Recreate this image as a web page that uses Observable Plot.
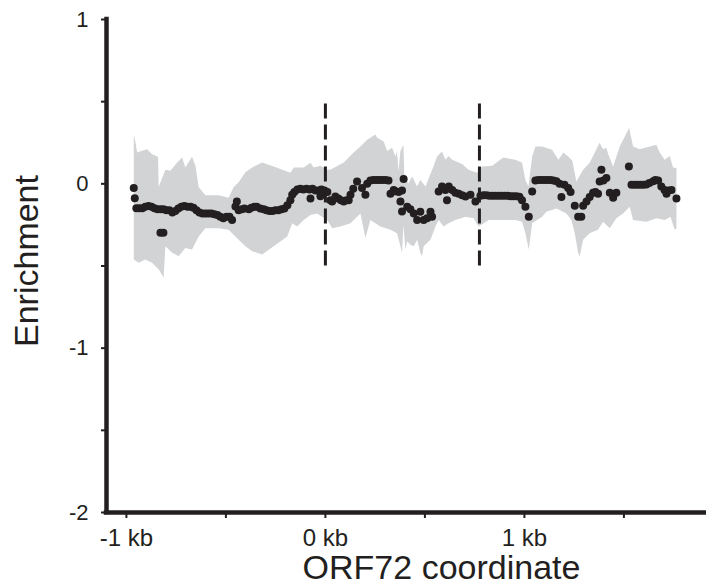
<!DOCTYPE html>
<html>
<head>
<meta charset="utf-8">
<script src="https://cdn.jsdelivr.net/npm/d3@7"></script>
<script src="https://cdn.jsdelivr.net/npm/@observablehq/plot@0.6"></script>
<style>
  html, body { margin: 0; padding: 0; background: white; }
</style>
</head>
<body>
<div id="chart"></div>
<script>
// Position in bp relative to ORF72 start; enrichment values
const pointPos = [
  -963, -958, -950, -935, -920, -905, -889, -874, -859, -844,
  -829, -814, -799, -784, -769, -754, -739, -724, -709, -693,
  -678, -663, -648, -633, -618, -603, -588, -573, -558, -543,
  -528, -513, -497, -482, -469, -452, -445, -436, -829, -814,
  -420, -407, -385, -372, -357, -345, -327, -310, -296, -281,
  -266, -251, -236, -221, -206, -191, -176, -167, -156, -141,
  -126, -111, -95, -80, -75, -65, -50, -35, -25, -20,
  -5, 10, 25, 34, 50, 65, 78, 92, 106, 117,
  126, 140, 159, 184, 201, 210, 226, 241, 256, 271,
  286, 302, 317, 327, 343, 352, 368, 377, 385, 393,
  385, 411, 427, 444, 461, 477, 494, 511, 528, 536,
  569, 586, 603, 611, 620, 637, 653, 670, 687, 704,
  729, 754, 779, 794, 809, 824, 839, 854, 869, 884,
  899, 915, 930, 945, 960, 975, 988, 1005, 1022, 1039,
  1055, 1070, 1085, 1100, 1115, 1131, 1146, 1161, 1177, 1186,
  1201, 1220, 1232, 1253, 1270, 1286, 1295, 1312, 1328, 1345,
  1357, 1370, 1378, 1387, 1397, 1412, 1429, 1446, 1462, 1525,
  1538, 1553, 1568, 1583, 1598, 1613, 1628, 1647, 1658, 1672,
  1688, 1704, 1714, 1724, 1739, 1764
];
const pointVal = [
  -0.026, -0.087, -0.148, -0.148, -0.148, -0.14, -0.135, -0.14, -0.148, -0.155,
  -0.155, -0.155, -0.16, -0.16, -0.175, -0.165, -0.15, -0.14, -0.135, -0.14,
  -0.14, -0.145, -0.16, -0.175, -0.18, -0.18, -0.18, -0.18, -0.185, -0.19,
  -0.2, -0.21, -0.2, -0.2, -0.22, -0.138, -0.108, -0.16, -0.297, -0.297,
  -0.155, -0.15, -0.155, -0.145, -0.14, -0.14, -0.15, -0.155, -0.16, -0.165,
  -0.165, -0.16, -0.16, -0.155, -0.15, -0.13, -0.1, -0.067, -0.05, -0.035,
  -0.03, -0.035, -0.03, -0.035, -0.09, -0.03, -0.04, -0.04, -0.075, -0.035,
  -0.04, -0.05, -0.1, -0.108, -0.077, -0.09, -0.1, -0.108, -0.1, -0.1,
  -0.067, -0.03, 0.014, -0.026, -0.067, 0.0, 0.02, 0.024, 0.024, 0.024,
  0.024, 0.024, 0.02, -0.06, -0.037, -0.045, -0.05, -0.108, -0.04, 0.03,
  -0.169, -0.14, -0.155, -0.18, -0.22, -0.17, -0.22, -0.21, -0.17, -0.2,
  -0.047, -0.016, -0.037, -0.1, -0.016, -0.037, -0.055, -0.06, -0.07, -0.077,
  -0.067, -0.108, -0.073, -0.07, -0.07, -0.072, -0.072, -0.072, -0.072, -0.073,
  -0.073, -0.073, -0.075, -0.075, -0.075, -0.078, -0.1, -0.14, -0.2, -0.047,
  0.02, 0.024, 0.024, 0.024, 0.024, 0.024, 0.02, 0.015, 0.0, -0.08,
  -0.006, -0.026, -0.05, -0.134, -0.2, -0.2, -0.134, -0.108, -0.08, -0.055,
  -0.05, -0.06, 0.014, 0.085, 0.02, 0.035, -0.055, -0.085, -0.055, 0.105,
  -0.006, -0.006, -0.006, -0.006, -0.006, -0.004, 0.005, 0.015, 0.024, 0.02,
  -0.016, -0.037, -0.06, -0.04, -0.037, -0.09
];

// Upper and lower edges of the grey confidence band
const upperPos = [
  -963, -957, -946, -925, -896, -871, -841, -838, -804, -779,
  -745, -720, -704, -670, -653, -637, -603, -536, -486, -461,
  -436, -402, -368, -318, -260, -176, -159, -109, -75, -59,
  -25, 9, 25, 92, 142, 176, 210, 251, 260, 293,
  310, 335, 352, 360, 367, 377, 392, 397, 417, 436,
  461, 477, 503, 528, 543, 561, 586, 603, 618, 637,
  687, 719, 762, 787, 838, 894, 955, 988, 1005, 1020,
  1039, 1055, 1089, 1139, 1171, 1196, 1221, 1241, 1261, 1295,
  1328, 1378, 1395, 1412, 1421, 1446, 1479, 1526, 1546, 1579,
  1663, 1680, 1705, 1730, 1747, 1764
];
const upperVal = [
  0.30, 0.27, 0.19, 0.20, 0.21, 0.18, 0.165, -0.02, 0.085, 0.08,
  0.13, 0.16, 0.10, 0.165, 0.11, -0.02, -0.07, -0.07, -0.085, -0.02,
  0.01, 0.07, 0.10, 0.13, 0.105, 0.067, 0.10, 0.10, 0.128, 0.10,
  0.11, 0.085, 0.085, 0.13, 0.19, 0.227, 0.268, 0.30, 0.28, 0.258,
  0.20, 0.22, 0.167, 0.20, 0.075, 0.20, 0.238, 0.045, 0.004, 0.045,
  -0.016, 0.024, -0.016, 0.06, 0.105, 0.167, 0.197, 0.146, 0.17, 0.146,
  0.12, 0.085, 0.067, 0.105, 0.11, 0.16, 0.146, 0.128, 0.024, -0.016,
  0.167, 0.227, 0.227, 0.207, 0.146, 0.19, 0.165, 0.14, 0.014, 0.085,
  0.128, 0.25, 0.21, 0.22, 0.18, 0.105, 0.227, 0.34, 0.227, 0.21,
  0.238, 0.19, 0.146, 0.17, 0.10, 0.097
];
const lowerPos = [
  -963, -938, -905, -871, -838, -813, -804, -770, -737, -704,
  -670, -637, -603, -536, -486, -469, -436, -402, -368, -318,
  -260, -192, -167, -142, -109, -75, -42, 9, 34, 75,
  126, 176, 201, 226, 276, 327, 360, 377, 385, 392,
  402, 411, 427, 444, 461, 477, 486, 494, 511, 528,
  553, 569, 594, 619, 653, 704, 745, 770, 821, 955,
  988, 1005, 1022, 1039, 1089, 1110, 1161, 1211, 1236, 1253,
  1270, 1278, 1295, 1328, 1370, 1395, 1429, 1462, 1496, 1529,
  1546, 1613, 1663, 1705, 1734, 1755, 1764
];
const lowerVal = [
  -0.46, -0.48, -0.46, -0.48, -0.52, -0.57, -0.38, -0.42, -0.44, -0.39,
  -0.40, -0.32, -0.27, -0.27, -0.28, -0.30, -0.34, -0.38, -0.41, -0.43,
  -0.38, -0.32, -0.24, -0.26, -0.22, -0.19, -0.18, -0.22, -0.27, -0.26,
  -0.24, -0.18, -0.33, -0.22, -0.26, -0.28, -0.30, -0.38, -0.42, -0.25,
  -0.40, -0.35, -0.37, -0.38, -0.34, -0.42, -0.44, -0.38, -0.36, -0.34,
  -0.26, -0.22, -0.26, -0.24, -0.22, -0.20, -0.21, -0.26, -0.22, -0.22,
  -0.23, -0.30, -0.40, -0.24, -0.20, -0.17, -0.15, -0.18, -0.22, -0.30,
  -0.42, -0.44, -0.34, -0.30, -0.28, -0.23, -0.27, -0.21, -0.18, -0.14,
  -0.22, -0.23, -0.21, -0.22, -0.20, -0.28, -0.27
];

// ORF72 start and end (bp)
const orfBounds = [0, 774];

const xTicks = [-1000, -500, 0, 500, 1000, 1500];
const xTickLabels = ["-1 kb", "", "0 kb", "", "1 kb", ""];
const yTicks = [1, 0.5, 0, -0.5, -1, -1.5, -2];
const yTickLabels = ["1", "", "0", "", "-1", "", "-2"];
const xLabel = "ORF72 coordinate";
const yLabel = "Enrichment";

const points = pointPos.map((p, i) => ({pos: p, val: pointVal[i]}));
const band = [
  ...upperPos.map((p, i) => ({pos: p, val: upperVal[i]})),
  ...lowerPos.map((p, i) => ({pos: p, val: lowerVal[i]})).reverse()
];

const ink = "#231f20";
const xDomain = [-1100, 1915];
const yDomain = [-2, 1];

const chart = Plot.plot({
  width: 706,
  height: 586,
  marginLeft: 106,
  marginRight: 0,
  marginTop: 19,
  marginBottom: 74,
  x: {domain: xDomain},
  y: {domain: yDomain},
  style: {fontFamily: "'Liberation Sans', Arial, sans-serif", color: ink, background: "white", overflow: "visible"},
  marks: [
    Plot.line(band, {x: "pos", y: "val", fill: "#d1d3d4", stroke: null, curve: "linear"}),
    Plot.ruleX(orfBounds, {y1: -0.5, y2: 0.5, stroke: ink, strokeWidth: 3, strokeDasharray: "15,6"}),
    Plot.dot(points, {x: "pos", y: "val", r: 4, fill: ink, stroke: null}),
    Plot.axisY({ticks: yTicks, tickFormat: (d) => yTickLabels[yTicks.indexOf(d)], tickSize: 5, tickPadding: 13, fontSize: 22, strokeWidth: 2, label: null}),
    Plot.axisX({ticks: xTicks, tickFormat: (d) => xTickLabels[xTicks.indexOf(d)], tickSize: 6, tickPadding: 10, fontSize: 24, strokeWidth: 2, label: null}),
    Plot.ruleX([xDomain[0]], {y1: yDomain[0], y2: yDomain[1], stroke: ink, strokeWidth: 4.5, strokeLinecap: "square"}),
    Plot.ruleY([yDomain[0]], {x1: xDomain[0], x2: xDomain[1], stroke: ink, strokeWidth: 4.5, strokeLinecap: "square"}),
    Plot.text([yLabel], {frameAnchor: "left", textAnchor: "middle", rotate: -90, fontSize: 34, dx: -79, dy: -5, fill: ink}),
    Plot.text([xLabel], {frameAnchor: "bottom", lineAnchor: "bottom", fontSize: 34, dx: 35, dy: 66, fill: ink})
  ]
});
document.getElementById("chart").appendChild(chart);
</script>
</body>
</html>
